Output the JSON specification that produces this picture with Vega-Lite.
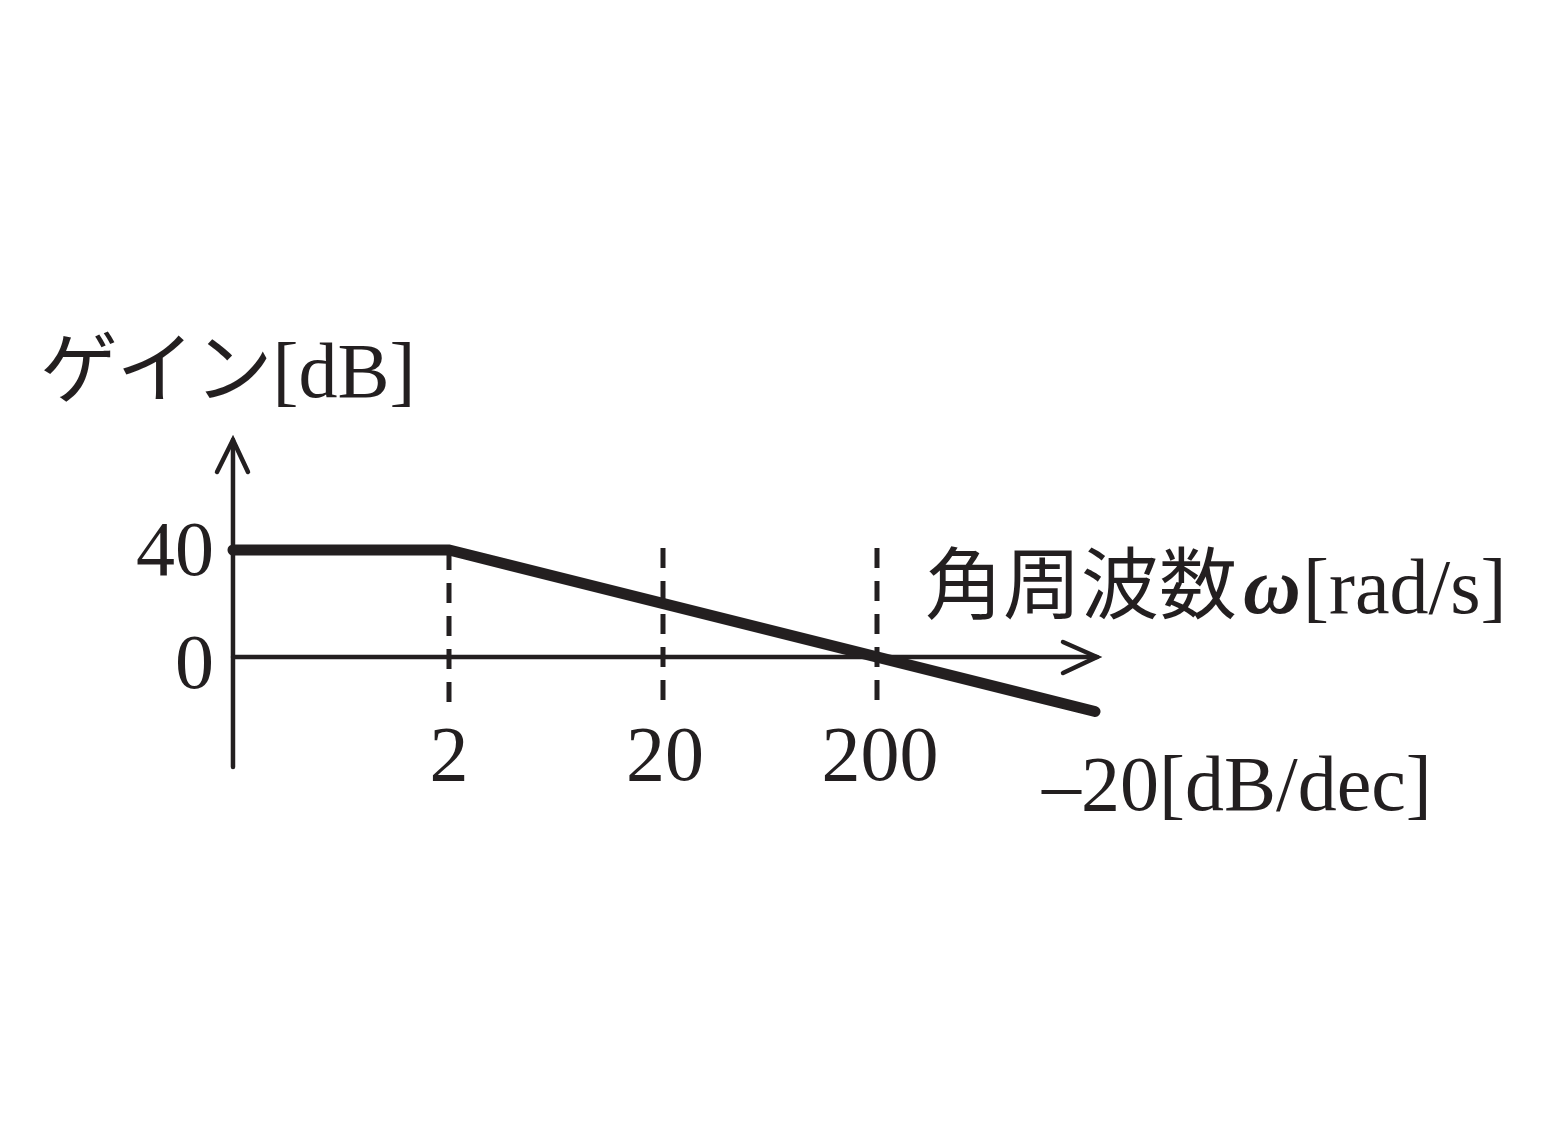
{
  "$schema": "https://vega.github.io/schema/vega-lite/v6.json",
  "width": 1548,
  "height": 1147,
  "padding": 0,
  "autosize": "none",
  "background": "white",
  "config": {"view": {"stroke": null}},
  "datasets": {
    "gain": [
      {"w": 0.1957, "g": 40},
      {"w": 2, "g": 40},
      {"w": 2088, "g": -20.37}
    ],
    "axes": [
      {"w": 0.1957, "g": -41.12, "w2": 0.1957, "g2": 81.12},
      {"w": 0.1957, "g": 0, "w2": 2133, "g2": 0}
    ],
    "arrows": [
      {"id": "y", "i": 1, "w": 0.1648, "g": 69.16},
      {"id": "y", "i": 2, "w": 0.1957, "g": 81.12},
      {"id": "y", "i": 3, "w": 0.2300, "g": 69.16},
      {"id": "x", "i": 1, "w": 1480, "g": 5.61},
      {"id": "x", "i": 2, "w": 2133, "g": 0},
      {"id": "x", "i": 3, "w": 1480, "g": -5.98}
    ],
    "guides": [
      {"w": 2, "g": 40, "g2": -17.2},
      {"w": 20, "g": 40.75, "g2": -17.2},
      {"w": 200, "g": 40.75, "g2": -17.2}
    ],
    "yticks": [
      {"label": "40", "w": 0.1595, "g": 30.65},
      {"label": "0", "w": 0.1595, "g": -11.59}
    ],
    "xticks": [
      {"label": "2", "w": 2, "g": -45.98},
      {"label": "20", "w": 20.44, "g": -45.98},
      {"label": "200", "w": 206.5, "g": -45.98}
    ],
    "titles": [
      {"label": "ゲイン[dB]", "w": 0.02454, "g": 97.2},
      {"label": "角周波数", "w": 335.2, "g": 16.45},
      {"label": "[rad/s]", "w": 19576, "g": 16.45},
      {"label": "–20[dB/dec]", "w": 1180, "g": -57.2}
    ],
    "omega": [
      {"label": "ω", "w": 10264, "g": 16.45}
    ]
  },
  "encoding": {
    "x": {
      "field": "w",
      "type": "quantitative",
      "scale": {"type": "log", "domain": [0.015955, 273246], "nice": false},
      "axis": null
    },
    "y": {
      "field": "g",
      "type": "quantitative",
      "scale": {"domain": [-183.18, 245.61], "nice": false, "zero": false},
      "axis": null
    }
  },
  "layer": [
    {
      "data": {"name": "axes"},
      "mark": {"type": "rule", "color": "#231f20", "strokeWidth": 4.5, "strokeCap": "round"},
      "encoding": {
        "x2": {"field": "w2"},
        "y2": {"field": "g2"}
      }
    },
    {
      "data": {"name": "arrows"},
      "mark": {"type": "line", "color": "#231f20", "strokeWidth": 4.5, "strokeCap": "round", "strokeJoin": "miter"},
      "encoding": {
        "detail": {"field": "id"},
        "order": {"field": "i"}
      }
    },
    {
      "data": {"name": "guides"},
      "mark": {"type": "rule", "color": "#231f20", "strokeWidth": 5, "strokeDash": [20, 13]},
      "encoding": {
        "y2": {"field": "g2"}
      }
    },
    {
      "data": {"name": "gain"},
      "mark": {"type": "line", "color": "#231f20", "strokeWidth": 11, "strokeCap": "round", "strokeJoin": "miter"},
      "encoding": {}
    },
    {
      "data": {"name": "yticks"},
      "mark": {"type": "text", "font": "Liberation Serif", "fontSize": 78, "align": "right", "baseline": "alphabetic", "color": "#231f20"},
      "encoding": {"text": {"field": "label"}}
    },
    {
      "data": {"name": "xticks"},
      "mark": {"type": "text", "font": "Liberation Serif", "fontSize": 78, "align": "center", "baseline": "alphabetic", "color": "#231f20"},
      "encoding": {"text": {"field": "label"}}
    },
    {
      "data": {"name": "titles"},
      "mark": {"type": "text", "font": "Liberation Serif, Noto Sans CJK JP", "fontSize": 78, "align": "left", "baseline": "alphabetic", "color": "#231f20"},
      "encoding": {"text": {"field": "label"}}
    },
    {
      "data": {"name": "omega"},
      "mark": {"type": "text", "font": "Liberation Serif", "fontSize": 80, "fontStyle": "italic", "fontWeight": "bold", "align": "left", "baseline": "alphabetic", "color": "#231f20"},
      "encoding": {"text": {"field": "label"}}
    }
  ]
}
